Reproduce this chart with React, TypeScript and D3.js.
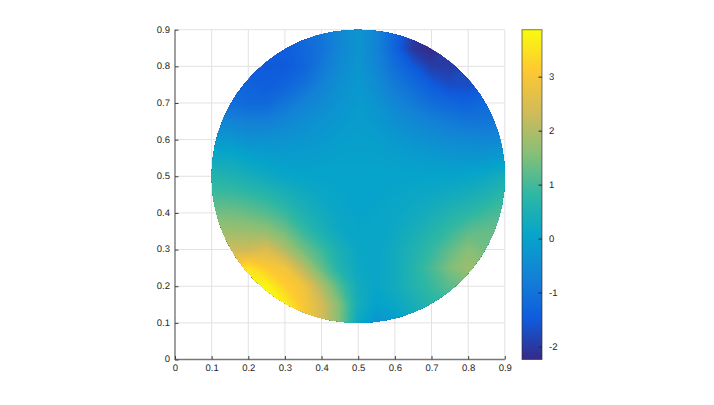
import React, { useEffect, useRef } from 'react'
import * as d3 from 'd3'

const gridStep = 0.05
const fieldRows: number[][] = [
  [-1.45, -1.45, -1.45, -1.45, -1.35, -1.15, -0.95, -0.55, -0.25, -0.6, -1.25, -1.9, -2.2, -2.0, -1.8, -1.6, -1.5],
  [-1.45, -1.45, -1.45, -1.45, -1.45, -1.25, -1.0, -0.6, -0.3, -0.65, -1.3, -2.05, -2.25, -2.0, -1.8, -1.6, -1.5],
  [-1.35, -1.35, -1.45, -1.5, -1.5, -1.3, -0.9, -0.5, -0.25, -0.6, -1.1, -1.5, -1.95, -2.0, -1.75, -1.55, -1.45],
  [-1.25, -1.25, -1.35, -1.45, -1.3, -1.05, -0.7, -0.4, -0.2, -0.45, -0.85, -1.15, -1.45, -1.7, -1.7, -1.45, -1.3],
  [-1.1, -1.1, -1.2, -1.2, -0.95, -0.7, -0.5, -0.3, -0.15, -0.3, -0.6, -0.85, -1.1, -1.25, -1.35, -1.2, -1.1],
  [-0.6, -0.65, -0.75, -0.75, -0.6, -0.45, -0.3, -0.2, -0.1, -0.2, -0.4, -0.55, -0.7, -0.85, -0.95, -0.95, -0.85],
  [-0.2, -0.2, -0.35, -0.35, -0.3, -0.25, -0.2, -0.1, -0.05, -0.1, -0.2, -0.3, -0.4, -0.5, -0.55, -0.6, -0.5],
  [0.2, 0.2, 0.05, -0.05, -0.1, -0.1, -0.05, 0, 0, 0, -0.05, -0.1, -0.15, -0.2, -0.25, -0.2, -0.1],
  [0.65, 0.55, 0.4, 0.25, 0.12, 0.05, 0.05, 0.05, 0.05, 0.05, 0.05, 0.05, 0.05, 0.05, 0.1, 0.2, 0.4],
  [1.0, 0.95, 0.85, 0.7, 0.5, 0.3, 0.15, 0.08, 0.05, 0.05, 0.1, 0.15, 0.2, 0.3, 0.4, 0.55, 0.8],
  [1.4, 1.4, 1.3, 1.15, 0.9, 0.55, 0.3, 0.12, 0.05, 0.1, 0.15, 0.25, 0.4, 0.6, 0.75, 0.95, 1.1],
  [1.8, 1.8, 1.8, 1.7, 1.4, 0.9, 0.5, 0.2, 0.1, 0.1, 0.2, 0.4, 0.65, 0.9, 1.2, 1.3, 1.3],
  [2.3, 2.3, 2.3, 2.5, 2.0, 1.4, 0.95, 0.45, 0.15, 0.1, 0.3, 0.55, 0.85, 1.25, 1.6, 1.4, 1.4],
  [3.1, 3.1, 3.5, 3.1, 2.9, 2.1, 1.3, 0.6, 0.2, 0.1, 0.3, 0.65, 1.05, 1.5, 1.8, 1.6, 1.6],
  [3.7, 3.7, 3.8, 3.8, 3.2, 2.9, 2.0, 1.1, 0.3, 0.1, 0.3, 0.6, 0.9, 1.2, 1.4, 1.4, 1.4],
  [3.8, 3.8, 3.8, 3.8, 3.7, 3.0, 2.4, 1.5, 0.35, 0.0, 0.15, 0.4, 0.7, 0.9, 1.0, 1.0, 1.0],
  [3.8, 3.8, 3.8, 3.8, 3.6, 3.1, 2.4, 1.5, 0.2, -0.3, -0.2, 0.2, 0.6, 0.8, 0.9, 0.9, 0.9],
]
const fieldLeft = 0.1
const fieldTop = 0.9

const axisTicks = [0, 0.1, 0.2, 0.3, 0.4, 0.5, 0.6, 0.7, 0.8, 0.9]
const colorTicks = [-2, -1, 0, 1, 2, 3]
const colorDomain = [-2.24, 3.87]
const parulaStops = ['#352a87', '#0f5cdd', '#1481d6', '#06a4ca', '#2eb7a4', '#87bf77', '#d1bb59', '#fec832', '#f9fb0e']

const circleCenter = 0.5
const circleRadius = 0.4

const x = d3.scaleLinear().domain([0, 0.9]).range([175, 504.8])
const y = d3.scaleLinear().domain([0, 0.9]).range([359.5, 29.7])
const barY = d3.scaleLinear().domain(colorDomain).range([359.5, 29.7])

const color = d3
  .scaleLinear<string>()
  .domain(parulaStops.map((_, i) => colorDomain[0] + (i / (parulaStops.length - 1)) * (colorDomain[1] - colorDomain[0])))
  .range(parulaStops)
  .clamp(true)

// pad by one sample all round so the contour bands run past the circle edge
const paddedRows = [fieldRows[0], ...fieldRows, fieldRows[fieldRows.length - 1]].map((r) => [r[0], ...r, r[r.length - 1]])
const gridW = paddedRows[0].length
const gridH = paddedRows.length
const bandStep = 0.03
const bands = d3
  .contours()
  .size([gridW, gridH])
  .smooth(true)
  .thresholds(d3.range(-2.6, 4.0, bandStep))(paddedRows.flat())

const projection = d3.geoTransform({
  point(gx, gy) {
    const dataX = fieldLeft + (gx - 1.5) * gridStep
    const dataY = fieldTop - (gy - 1.5) * gridStep
    this.stream.point(x(dataX), y(dataY))
  },
})
const bandPath = d3.geoPath(projection)

const FONT = '"Liberation Sans", Arial, sans-serif'

const App = () => {
  const xAxisRef = useRef<SVGGElement>(null)
  const yAxisRef = useRef<SVGGElement>(null)
  const barAxisRef = useRef<SVGGElement>(null)

  useEffect(() => {
    const style = (g: any, stroke: string) => {
      g.selectAll('.domain').remove()
      g.selectAll('.tick line').attr('stroke', stroke).attr('stroke-width', 1)
      g.selectAll('text')
        .attr('fill', '#262626')
        .attr('font-family', FONT)
        .attr('font-size', 9.5)
        .attr('text-rendering', 'geometricPrecision')
    }
    const label = (d: any) => String(d)

    const xg = d3.select(xAxisRef.current)
    xg.call(d3.axisBottom(x).tickValues(axisTicks).tickFormat(label).tickSizeInner(-3.5).tickPadding(5) as any)
    style(xg, '#404040')

    const yg = d3.select(yAxisRef.current)
    yg.call(d3.axisLeft(y).tickValues(axisTicks).tickFormat(label).tickSizeInner(-3.5).tickPadding(5) as any)
    yg.selectAll('text').attr('dy', '0.25em')
    style(yg, '#404040')

    const bg = d3.select(barAxisRef.current)
    bg.call(d3.axisRight(barY).tickValues(colorTicks).tickFormat(label).tickSizeInner(-3.5).tickPadding(7) as any)
    style(bg, '#262626')
  }, [])

  return (
    <svg width={714} height={405} style={{ position: 'absolute', left: 0, top: 0, background: '#fff' }}>
      <defs>
        <clipPath id="disc">
          <circle cx={x(circleCenter)} cy={y(circleCenter)} r={x(circleRadius) - x(0)} />
        </clipPath>
        <linearGradient id="bar" x1="0" y1="1" x2="0" y2="0">
          {parulaStops.map((c, i) => (
            <stop key={c} offset={i / (parulaStops.length - 1)} stopColor={c} />
          ))}
        </linearGradient>
      </defs>

      <g stroke="#e2e2e2" strokeWidth={1}>
        {axisTicks.slice(1).map((t) => (
          <line key={'gx' + t} x1={x(t)} x2={x(t)} y1={y(0)} y2={y(0.9)} />
        ))}
        {axisTicks.slice(1).map((t) => (
          <line key={'gy' + t} x1={x(0)} x2={x(0.9)} y1={y(t)} y2={y(t)} />
        ))}
      </g>

      <g clipPath="url(#disc)">
        {bands.map((b) => (
          <path key={b.value} d={bandPath(b) || ''} fill={color(b.value + bandStep / 2)} />
        ))}
      </g>

      <line x1={x(0)} x2={x(0)} y1={y(0) + 0.5} y2={y(0.9)} stroke="#777" strokeWidth={1.4} />
      <line x1={x(0)} x2={x(0.9)} y1={y(0)} y2={y(0)} stroke="#777" strokeWidth={1.4} />
      <g ref={xAxisRef} transform={`translate(0,${y(0)})`} />
      <g ref={yAxisRef} transform={`translate(${x(0)},0)`} />

      <rect
        x={522}
        y={barY(colorDomain[1])}
        width={20}
        height={barY(colorDomain[0]) - barY(colorDomain[1])}
        fill="url(#bar)"
        stroke="#262626"
        strokeOpacity={0.6}
        strokeWidth={1}
      />
      <g ref={barAxisRef} transform="translate(542,0)" />
    </svg>
  )
}

export default App
